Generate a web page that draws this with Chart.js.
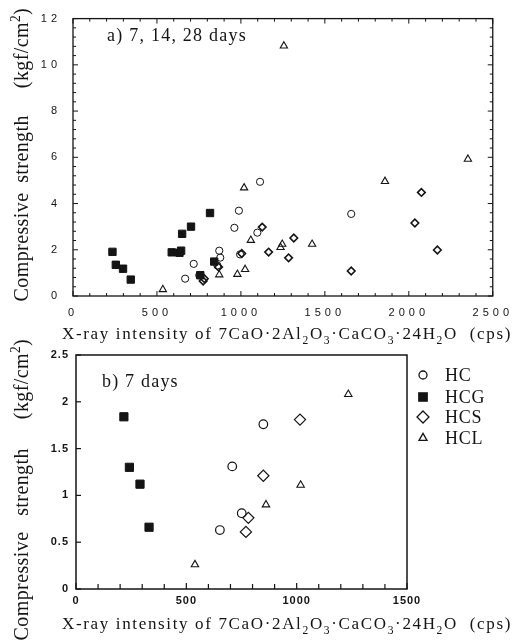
<!DOCTYPE html>
<html><head><meta charset="utf-8">
<script src="https://cdn.jsdelivr.net/npm/chart.js@4.4.1/dist/chart.umd.min.js"></script>
<style>
html,body{margin:0;padding:0;background:#fff;width:515px;height:643px;overflow:hidden}
#ca{position:absolute;left:0;top:0}
#cb{position:absolute;left:0;top:335px}
</style></head><body>
<canvas id="ca" width="515" height="345"></canvas>
<canvas id="cb" width="515" height="308"></canvas>
<script>
// ---------- data: a) 7, 14, 28 days ----------
const topHCx  = [668, 719, 752, 860, 871, 877, 961, 988, 995, 1098, 1114, 1657];
const topHCy  = [0.75, 1.39, 0.89, 1.32, 1.96, 1.66, 2.95, 3.69, 1.80, 2.74, 4.94, 3.55];
const topHCGx = [235, 255, 298, 344, 588, 634, 644, 650, 703, 758, 816, 841];
const topHCGy = [1.91, 1.35, 1.18, 0.71, 1.89, 1.87, 1.96, 2.69, 3.00, 0.90, 3.59, 1.49];
const topHCSx = [775, 782, 867, 1005, 1127, 1165, 1284, 1315, 1657, 2036, 2075, 2170];
const topHCSy = [0.65, 0.75, 1.25, 1.84, 2.98, 1.90, 1.65, 2.51, 1.08, 3.16, 4.48, 1.99];
const topHCLx = [535, 871, 979, 1025, 1019, 1059, 1236, 1246, 1256, 1424, 1858, 2352];
const topHCLy = [0.28, 0.92, 0.94, 1.15, 4.68, 2.41, 2.10, 2.24, 10.82, 2.24, 4.96, 5.92];
// ---------- data: b) 7 days ----------
const botHCx  = [652, 708, 751, 849];
const botHCy  = [0.63, 1.31, 0.81, 1.76];
const botHCGx = [217, 242, 290, 331];
const botHCGy = [1.84, 1.30, 1.12, 0.66];
const botHCSx = [770, 781, 849, 1015];
const botHCSy = [0.61, 0.76, 1.21, 1.81];
const botHCLx = [539, 861, 1018, 1234];
const botHCLy = [0.26, 0.90, 1.11, 2.08];
// ---------- ticks / labels ----------
const topXTicks = [0, 500, 1000, 1500, 2000, 2500];
const topYTicks = [0, 2, 4, 6, 8, 10, 12];
const botXTicks = [0, 500, 1000, 1500];
const botYTicks = [0, 0.5, 1, 1.5, 2, 2.5];
const seriesNames = ['HC', 'HCG', 'HCS', 'HCL'];
const titleA = 'a) 7, 14, 28 days';
const titleB = 'b) 7 days';
const xTitleSegs = [['X-ray intensity of 7CaO\u00b72Al',0],['2',1],['O',0],['3',1],['\u00b7CaCO',0],['3',1],['\u00b724H',0],['2',1],['O  (cps)',0]];
const yTitleWords = [[['Compressive',0]],[['strength',0]],[['(kgf/cm',0],['2',-1],[')',0]]];

const INK = '#141414';
const SERIF = '"Liberation Serif", "Times New Roman", serif';
const SANS = '"Liberation Sans", Arial, sans-serif';

function pts(xs, ys){ return xs.map((x,i)=>({x, y: ys[i]})); }

function segsWidth(ctx, segs, size, sp){
  let w = 0;
  for (const [t,m] of segs){
    ctx.font = (m ? size*0.68 : size) + 'px ' + SERIF;
    ctx.letterSpacing = '0px';
    w += ctx.measureText(t).width + sp * t.length;
  }
  return w;
}
function drawSegs(ctx, segs, x, y, size, sp){
  let cx = x;
  for (const [t,m] of segs){
    ctx.font = (m ? size*0.68 : size) + 'px ' + SERIF;
    ctx.letterSpacing = '0px';
    const w = ctx.measureText(t).width + sp * t.length;
    ctx.letterSpacing = sp + 'px';
    const dy = m === 1 ? size*0.28 : (m === -1 ? -size*0.42 : 0);
    ctx.fillText(t, cx, y + dy);
    cx += w;
  }
}
function charCount(segs){ return segs.reduce((n,s)=>n+s[0].length,0); }
function drawFit(ctx, segs, x, y, size, target){
  const nat = segsWidth(ctx, segs, size, 0);
  const sp = (target - nat) / charCount(segs);
  drawSegs(ctx, segs, x, y, size, sp);
}
function drawYTitle(ctx, baseX, centers, size, sp){
  yTitleWords.forEach((segs, i) => {
    const w = segsWidth(ctx, segs, size, sp);
    ctx.save();
    ctx.translate(baseX, centers[i]);
    ctx.rotate(-Math.PI/2);
    drawSegs(ctx, segs, -w/2, 0, size, sp);
    ctx.restore();
  });
}
function line(ctx, x1, y1, x2, y2){ ctx.beginPath(); ctx.moveTo(x1,y1); ctx.lineTo(x2,y2); ctx.stroke(); }

function drawMarker(ctx, style, x, y, r, filled){
  ctx.beginPath();
  if (style === 'circle') ctx.arc(x, y, r, 0, Math.PI*2);
  else if (style === 'rect') ctx.rect(x - r, y - r, 2*r, 2*r);
  else if (style === 'rectRot'){ ctx.moveTo(x, y - r); ctx.lineTo(x + r, y); ctx.lineTo(x, y + r); ctx.lineTo(x - r, y); ctx.closePath(); }
  else { const s = r*Math.sin(Math.PI/3); ctx.moveTo(x, y - r); ctx.lineTo(x + s, y + r/2); ctx.lineTo(x - s, y + r/2); ctx.closePath(); }
  if (filled){ ctx.fillStyle = INK; ctx.fill(); }
  ctx.stroke();
}

function ds(label, data, style, r, filled, bw){
  return { label, data, pointStyle: style, pointRadius: r, pointHoverRadius: r,
    borderColor: INK, backgroundColor: filled ? INK : 'rgba(0,0,0,0)', borderWidth: bw, pointBorderWidth: bw, showLine: false };
}

function scaleOpts(min, max, tickVals, fixed, isX, font, pad){
  return {
    type: 'linear', min, max,
    afterBuildTicks: s => { s.ticks = tickVals.map(v => ({value: v})); },
    afterFit: s => { if (isX) s.height = fixed; else s.width = fixed; },
    grid: { display: false, drawTicks: false },
    border: { display: false },
    ticks: { padding: pad, font, color: INK, maxRotation: 0, autoSkip: false, callback: v => String(v) }
  };
}

// ---------------- chart A ----------------
new Chart(document.getElementById('ca'), {
  type: 'scatter',
  data: { datasets: [
    ds('HC',  pts(topHCx, topHCy),  'circle',  3.6, false, 1),
    ds('HCG', pts(topHCGx, topHCGy),'rect',    5.2, true, 1),
    ds('HCS', pts(topHCSx, topHCSy),'rectRot', 3.8, false, 1.6),
    ds('HCL', pts(topHCLx, topHCLy),'triangle',4.2, false, 1.1)
  ]},
  options: {
    responsive: false, animation: false, events: [],
    layout: { padding: { left: 0, right: 20, top: 12, bottom: 0 } },
    plugins: { legend: { display: false }, tooltip: { enabled: false } },
    scales: {
      x: scaleOpts(0, 2500, topXTicks, 49, true, { family: SANS, size: 11 }, 10),
      y: scaleOpts(0, 12, topYTicks, 73, false, { family: SANS, size: 11 }, 12)
    }
  },
  plugins: [{
    id: 'frameA',
    beforeDraw(c){ c.ctx.letterSpacing = '4px'; },
    afterDraw(c){
      const ctx = c.ctx, a = c.chartArea, x = c.scales.x, y = c.scales.y;
      ctx.save();
      ctx.letterSpacing = '0px';
      ctx.strokeStyle = INK; ctx.lineWidth = 1.3;
      ctx.strokeRect(a.left, a.top, a.right - a.left, a.bottom - a.top);
      ctx.lineWidth = 1;
      for (let i = 0; i <= 25; i++){
        const px = x.getPixelForValue(i*100), L = i % 5 === 0 ? 5 : 3;
        line(ctx, px, a.bottom, px, a.bottom - L);
        line(ctx, px, a.top, px, a.top + L);
      }
      for (let i = 0; i <= 30; i++){
        const py = y.getPixelForValue(i*0.4), L = i % 5 === 0 ? 5 : 3;
        line(ctx, a.left, py, a.left + L, py);
        line(ctx, a.right, py, a.right - L, py);
      }
      ctx.fillStyle = INK; ctx.textBaseline = 'alphabetic'; ctx.textAlign = 'left';
      drawFit(ctx, [[titleA,0]], 107, 41, 18, 140);
      drawFit(ctx, xTitleSegs, 62, 339, 17, 450);
      drawYTitle(ctx, 28, [247, 149, 48], 20, 0.4);
      ctx.restore();
    }
  }]
});

// ---------------- chart B ----------------
const legendStyles = [['circle', 4, false], ['rect', 4.2, true], ['rectRot', 6, false], ['triangle', 4.6, false]];
new Chart(document.getElementById('cb'), {
  type: 'scatter',
  data: { datasets: [
    ds('HC',  pts(botHCx, botHCy),  'circle',  4.3, false, 1.2),
    ds('HCG', pts(botHCGx, botHCGy),'rect',    5.8, true, 1),
    ds('HCS', pts(botHCSx, botHCSy),'rectRot', 5.6, false, 1.2),
    ds('HCL', pts(botHCLx, botHCLy),'triangle',4.3, false, 1.1)
  ]},
  options: {
    responsive: false, animation: false, events: [],
    layout: { padding: { left: 0, right: 108, top: 20, bottom: 0 } },
    plugins: { legend: { display: false }, tooltip: { enabled: false } },
    scales: {
      x: scaleOpts(0, 1500, botXTicks, 54, true, { family: SANS, size: 11, weight: 'bold' }, 5),
      y: scaleOpts(0, 2.5, botYTicks, 76, false, { family: SANS, size: 11, weight: 'bold' }, 7)
    }
  },
  plugins: [{
    id: 'frameB',
    beforeDraw(c){ c.ctx.letterSpacing = '1px'; },
    afterDraw(c){
      const ctx = c.ctx, a = c.chartArea, x = c.scales.x, y = c.scales.y;
      ctx.save();
      ctx.letterSpacing = '0px';
      ctx.strokeStyle = INK; ctx.lineWidth = 1.5;
      ctx.strokeRect(a.left, a.top, a.right - a.left, a.bottom - a.top);
      ctx.lineWidth = 1.2;
      for (let i = 0; i <= 15; i++){
        const px = x.getPixelForValue(i*100), L = i % 5 === 0 ? 6 : 5;
        line(ctx, px, a.bottom, px, a.bottom - L);
      }
      for (let i = 0; i <= 5; i++){
        const py = y.getPixelForValue(i*0.5);
        line(ctx, a.left, py, a.left + 5, py);
      }
      ctx.fillStyle = INK; ctx.textBaseline = 'alphabetic'; ctx.textAlign = 'left';
      drawSegs(ctx, [[titleB,0]], 102, 52, 18, 1.2);
      drawFit(ctx, xTitleSegs, 62, 294, 17, 450);
      drawYTitle(ctx, 28, [251, 147, 44], 20, 0.4);
      // legend
      const rows = [40, 62, 82, 103];
      seriesNames.forEach((n, i) => {
        const [st, r, f] = legendStyles[i];
        ctx.lineWidth = 1.3; ctx.strokeStyle = INK;
        drawMarker(ctx, st, 423, rows[i], r, f);
        ctx.fillStyle = INK; ctx.textBaseline = 'middle';
        drawSegs(ctx, [[n,0]], 445, rows[i] + 1, 18, 0.8);
      });
      ctx.restore();
    }
  }]
});
</script>
</body></html>
